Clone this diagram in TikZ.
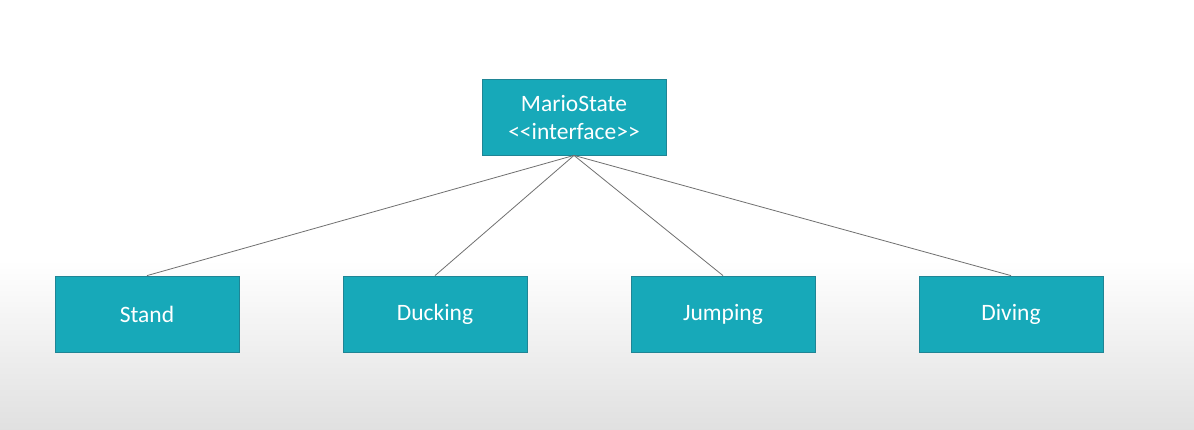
\documentclass[tikz,border=0pt]{standalone}
\usepackage{fontspec}
\setmainfont{Carlito}[Ligatures=NoCommon]
\definecolor{boxfill}{HTML}{17A9B9}
\definecolor{boxline}{HTML}{1F8595}
\definecolor{conn}{HTML}{707070}
\tikzset{
  cls/.style={draw=boxline, line width=0.8pt, fill=boxfill, text=white,
    minimum width=184pt, minimum height=76pt, inner sep=0pt, align=center,
    font=\fontsize{23.5}{28}\selectfont},
  link/.style={draw=conn, line width=0.8pt}
}
\begin{document}
\begin{tikzpicture}[x=1pt,y=-1pt]
\useasboundingbox (0,0) rectangle (1194,429);
\fill[white] (0,0) rectangle (1194,260);
\shade[top color=white, bottom color=black!12] (0,260) rectangle (1194,429);
\node[cls] (top) at (574,117) {MarioState\\{<}{<}interface{>}{>}};
\node[cls] (stand) at (147,314) {Stand};
\node[cls] (duck) at (435,314) {Ducking};
\node[cls] (jump) at (723,314) {Jumping};
\node[cls] (dive) at (1011,314) {Diving};
\draw[link] (top.south) -- (stand.north);
\draw[link] (top.south) -- (duck.north);
\draw[link] (top.south) -- (jump.north);
\draw[link] (top.south) -- (dive.north);
\end{tikzpicture}
\end{document}
